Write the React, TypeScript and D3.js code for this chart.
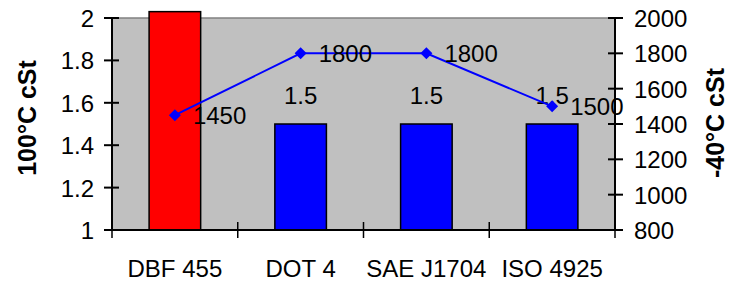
import * as d3 from 'd3';

const categories = ['DBF 455', 'DOT 4', 'SAE J1704', 'ISO 4925'];
const hotVisc = [2.03, 1.5, 1.5, 1.5]; // 100°C cSt (bars)
const coldVisc = [1450, 1800, 1800, 1500]; // -40°C cSt (line)
const barColors = ['#FF0000', '#0000FF', '#0000FF', '#0000FF'];
const leftTicks = [1, 1.2, 1.4, 1.6, 1.8, 2];
const rightTicks = [800, 1000, 1200, 1400, 1600, 1800, 2000];

const W = 739;
const H = 284;
const plot = { left: 112, right: 615, top: 18, bottom: 230 };
const font = 'Arial, "Liberation Sans", sans-serif';

export default function App() {
  const x = d3.scaleBand<string>().domain(categories).range([plot.left, plot.right]).paddingInner(0).paddingOuter(0);
  const yL = d3.scaleLinear().domain([1, 2]).range([plot.bottom, plot.top]);
  const yR = d3.scaleLinear().domain([800, 2000]).range([plot.bottom, plot.top]);
  const barW = x.bandwidth() * 0.41;
  const cx = (c: string) => (x(c) as number) + x.bandwidth() / 2;

  const line = d3.line<number>()
    .x((_, i) => cx(categories[i]))
    .y(d => yR(d));

  const boundaries = categories.map(c => x(c) as number).concat([plot.right]);

  return (
    <div style={{ position: 'absolute', left: 0, top: 0 }}>
      <svg width={W} height={H} style={{ display: 'block', background: '#fff' }} fontFamily={font}>
        {/* plot area */}
        <rect x={plot.left} y={plot.top} width={plot.right - plot.left} height={plot.bottom - plot.top} fill="#C0C0C0" />
        <line x1={plot.left} x2={plot.right} y1={plot.top} y2={plot.top} stroke="#808080" strokeWidth={1.5} />

        {/* bars */}
        {categories.map((c, i) => (
          <rect key={c} x={cx(c) - barW / 2} y={yL(hotVisc[i])} width={barW}
            height={plot.bottom - yL(hotVisc[i])} fill={barColors[i]} stroke="#000" strokeWidth={1.5} />
        ))}
        {categories.map((c, i) => hotVisc[i] <= 2 ? (
          <text key={c} x={cx(c)} y={yL(hotVisc[i]) - 20} textAnchor="middle" fontSize={24} fill="#000">
            {d3.format('.1f')(hotVisc[i])}
          </text>
        ) : null)}

        {/* line series */}
        <path d={line(coldVisc) as string} fill="none" stroke="#0000FF" strokeWidth={2} />
        {coldVisc.map((v, i) => (
          <path key={i} d="M0,-6L6,0L0,6L-6,0Z" transform={`translate(${cx(categories[i])},${yR(v)})`} fill="#0000FF" />
        ))}
        {coldVisc.map((v, i) => (
          <text key={i} x={cx(categories[i]) + 18} y={yR(v) + 9} fontSize={24} fill="#000">{v}</text>
        ))}

        {/* left axis */}
        <line x1={plot.left} x2={plot.left} y1={plot.top} y2={plot.bottom} stroke="#000" strokeWidth={2} />
        {leftTicks.map(t => (
          <g key={t}>
            <line x1={plot.left - 8} x2={plot.left + 7} y1={yL(t)} y2={yL(t)} stroke="#000" strokeWidth={2} />
            <text x={94} y={yL(t) + 9} textAnchor="end" fontSize={24}>{t}</text>
          </g>
        ))}
        <text transform={`translate(36,118) rotate(-90)`} textAnchor="middle" fontSize={25} fontWeight="bold">100°C cSt</text>

        {/* right axis */}
        <line x1={plot.right} x2={plot.right} y1={plot.top} y2={plot.bottom} stroke="#000" strokeWidth={2} />
        {rightTicks.map(t => (
          <g key={t}>
            <line x1={plot.right - 7} x2={plot.right + 8} y1={yR(t)} y2={yR(t)} stroke="#000" strokeWidth={2} />
            <text x={634} y={yR(t) + 9} fontSize={24}>{t}</text>
          </g>
        ))}
        <text transform={`translate(724,123) rotate(-90)`} textAnchor="middle" fontSize={25} fontWeight="bold">-40°C cSt</text>

        {/* bottom axis */}
        <line x1={plot.left - 8} x2={plot.right + 8} y1={plot.bottom} y2={plot.bottom} stroke="#000" strokeWidth={2} />
        {boundaries.map((b, i) => (
          <line key={i} x1={b} x2={b} y1={plot.bottom - 8} y2={plot.bottom + 8} stroke="#000" strokeWidth={1.5} />
        ))}
        {categories.map(c => (
          <text key={c} x={cx(c)} y={277} textAnchor="middle" fontSize={24}>{c}</text>
        ))}
      </svg>
    </div>
  );
}
